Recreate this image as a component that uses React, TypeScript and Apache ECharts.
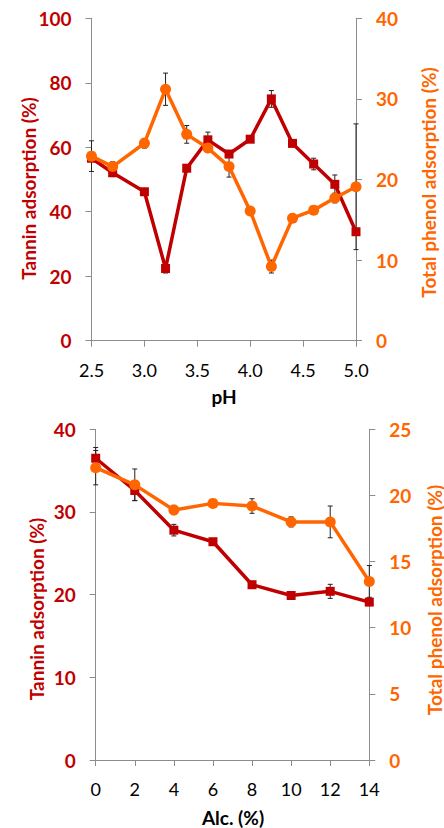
import React, { useEffect, useRef } from "react";
import * as echarts from "echarts";

// ---- Data ----
const phValues = [2.5, 2.7, 3.0, 3.2, 3.4, 3.6, 3.8, 4.0, 4.2, 4.4, 4.6, 4.8, 5.0];
const tanninByPH = [56.6, 52.1, 46.2, 22.4, 53.5, 62.3, 57.9, 62.5, 75.0, 61.2, 54.8, 48.5, 33.8];
const tanninByPHErr = [0, 1.2, 0, 1.4, 0, 2.4, 0, 0, 2.6, 0, 1.8, 2.9, 0];
const phenolByPH = [22.9, 21.6, 24.5, 31.2, 25.6, 23.9, 21.6, 16.1, 9.2, 15.2, 16.2, 17.7, 19.1];
const phenolByPHErr = [1.9, 0.6, 0.6, 2.0, 1.1, 0, 1.3, 0, 0.8, 0.5, 0, 0.6, 7.8];

const alcValues = [0, 2, 4, 6, 8, 10, 12, 14];
const tanninByAlc = [36.5, 32.6, 27.8, 26.4, 21.2, 19.9, 20.4, 19.1];
const tanninByAlcErr = [1.3, 1.2, 0.7, 0, 0, 0.3, 0.85, 0];
const phenolByAlc = [22.1, 20.8, 18.9, 19.4, 19.2, 18.0, 18.0, 13.5];
const phenolByAlcErr = [1.3, 1.2, 0.35, 0, 0.55, 0.38, 1.2, 1.2];

const tanninTitle = "Tannin adsorption (%)";
const phenolTitle = "Total phenol adsorption (%)";
const phTitle = "pH";
const alcTitle = "Alc. (%)";

const RED = "#C00000";
const ORANGE = "#FF6600";
const AXIS = "#8C8C8C";
const FONT = "Lato";

const pairs = (xs: number[], ys: number[]) => xs.map((x, i) => [x, ys[i]]);
const errs = (xs: number[], ys: number[], es: number[]) =>
  xs
    .map((x, i) => [x, ys[i] - es[i], ys[i] + es[i], es[i]])
    .filter((d) => d[3] > 0);

const errorRender = (params: any, api: any) => {
  const x = api.value(0);
  const lo = api.value(1);
  const hi = api.value(2);
  const a = api.coord([x, hi]);
  const b = api.coord([x, lo]);
  const w = 2.5;
  const st = { stroke: "#222", lineWidth: 1 };
  return {
    type: "group",
    children: [
      { type: "line", shape: { x1: a[0], y1: a[1], x2: b[0], y2: b[1] }, style: st },
      { type: "line", shape: { x1: a[0] - w, y1: a[1], x2: a[0] + w, y2: a[1] }, style: st },
      { type: "line", shape: { x1: b[0] - w, y1: b[1], x2: b[0] + w, y2: b[1] }, style: st },
    ],
  };
};

const yAxisBase = (color: string, min: number, max: number, interval: number, pos: "left" | "right", grid: number) => ({
  type: "value",
  gridIndex: grid,
  position: pos,
  min,
  max,
  interval,
  axisLine: { show: true, lineStyle: { color: AXIS, width: 1 } },
  axisTick: { show: true, length: 6, lineStyle: { color: AXIS } },
  splitLine: { show: false },
  axisLabel: { color, fontFamily: FONT, fontWeight: "bold", fontSize: 19, margin: 20 },
});

const xAxisBase = (min: number, max: number, interval: number, grid: number, fmt: (v: number) => string) => ({
  type: "value",
  gridIndex: grid,
  position: "bottom",
  min,
  max,
  interval,
  axisLine: { show: true, onZero: false, lineStyle: { color: AXIS, width: 1 } },
  axisTick: { show: true, length: 6, lineStyle: { color: AXIS } },
  splitLine: { show: false },
  axisLabel: { color: "#000", fontFamily: FONT, fontSize: 18, margin: 20, formatter: fmt },
});

const lineSeries = (data: number[][], color: string, symbol: string, size: number, xi: number, yi: number, z: number) => ({
  type: "line",
  xAxisIndex: xi,
  yAxisIndex: yi,
  data,
  symbol,
  symbolSize: size,
  lineStyle: { color, width: 3.5 },
  itemStyle: { color },
  z,
});

const errSeries = (data: number[][], xi: number, yi: number) => ({
  type: "custom",
  xAxisIndex: xi,
  yAxisIndex: yi,
  data,
  encode: { x: 0, y: [1, 2] },
  renderItem: errorRender,
  z: 1,
  silent: true,
});

const titleText = (text: string, color: string, x: number, y: number, vertical: boolean) => ({
  type: "text",
  x,
  y,
  rotation: vertical ? Math.PI / 2 : 0,
  style: {
    text,
    fill: color,
    font: `bold 19px ${FONT}`,
    align: "center",
    verticalAlign: "middle",
  },
});

export default function App() {
  const ref = useRef<HTMLDivElement>(null);
  useEffect(() => {
    if (!ref.current) return;
    const chart = echarts.init(ref.current, null, { renderer: "svg" });
    chart.setOption({
      animation: false,
      backgroundColor: "#fff",
      textStyle: { fontFamily: FONT },
      grid: [
        { left: 91.5, right: 88, top: 18.3, height: 322.4 },
        { left: 95.7, right: 74.7, top: 429.3, height: 330.7 },
      ],
      xAxis: [
        xAxisBase(2.5, 5.0, 0.5, 0, (v: number) => v.toFixed(1)),
        xAxisBase(0, 14, 2, 1, (v: number) => String(v)),
      ],
      yAxis: [
        yAxisBase(RED, 0, 100, 20, "left", 0),
        yAxisBase(ORANGE, 0, 40, 10, "right", 0),
        yAxisBase(RED, 0, 40, 10, "left", 1),
        yAxisBase(ORANGE, 0, 25, 5, "right", 1),
      ],
      graphic: [
        titleText(tanninTitle, RED, 28, 188.5, true),
        titleText(phenolTitle, ORANGE, 428, 182.5, true),
        titleText(tanninTitle, RED, 36, 609, true),
        titleText(phenolTitle, ORANGE, 434, 600, true),
        titleText(phTitle, "#000", 224, 396, false),
        titleText(alcTitle, "#000", 233, 817, false),
      ],
      series: [
        errSeries(errs(phValues, tanninByPH, tanninByPHErr), 0, 0),
        errSeries(errs(phValues, phenolByPH, phenolByPHErr), 0, 1),
        lineSeries(pairs(phValues, tanninByPH), RED, "rect", 9, 0, 0, 2),
        lineSeries(pairs(phValues, phenolByPH), ORANGE, "circle", 11, 0, 1, 3),
        errSeries(errs(alcValues, tanninByAlc, tanninByAlcErr), 1, 2),
        errSeries(errs(alcValues, phenolByAlc, phenolByAlcErr), 1, 3),
        lineSeries(pairs(alcValues, tanninByAlc), RED, "rect", 9, 1, 2, 2),
        lineSeries(pairs(alcValues, phenolByAlc), ORANGE, "circle", 11, 1, 3, 3),
      ],
    });
    return () => chart.dispose();
  }, []);
  return (
    <div
      ref={ref}
      style={{ position: "fixed", left: 0, top: 0, width: 444, height: 828, background: "#fff" }}
    />
  );
}
